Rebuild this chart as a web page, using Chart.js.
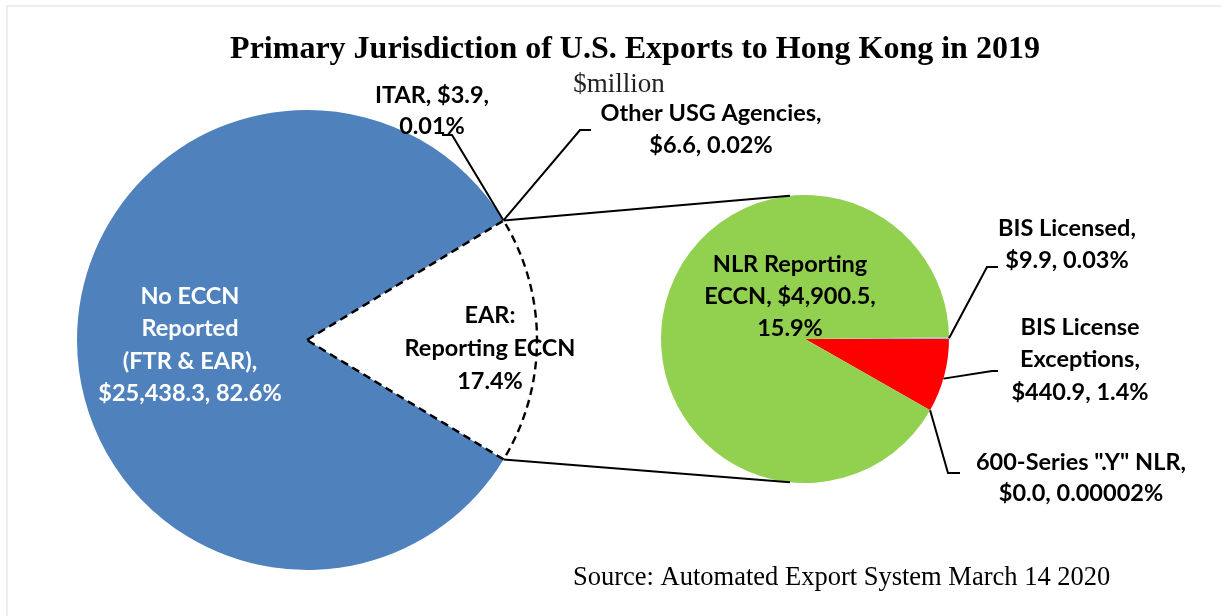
<!DOCTYPE html>
<html>
<head>
<meta charset="utf-8">
<script src="https://cdn.jsdelivr.net/npm/chart.js@4.4.1/dist/chart.umd.min.js"></script>
<style>
  body { margin: 0; background: #fff; }
  #wrap { position: relative; width: 1221px; height: 616px; }
  canvas { position: absolute; left: 0; top: 0; }
</style>
</head>
<body>
<div id="wrap">
  <canvas id="mainPie" width="1221" height="616"></canvas>
  <canvas id="earPie" width="1221" height="616"></canvas>
</div>
<script>
// $million, left pie (all exports) and right pie (EAR: reporting ECCN)
const mainCategories = ['EAR: Reporting ECCN', 'No ECCN Reported (FTR & EAR)', 'ITAR', 'Other USG Agencies'];
const mainValues = [5351.3, 25438.3, 3.9, 6.6];
const mainColors = ['#ffffff', '#4f81bd', '#c0504d', '#8064a2'];

const earCategories = ['BIS Licensed', 'BIS License Exceptions', '600-Series ".Y" NLR', 'NLR Reporting ECCN'];
const earValues = [9.9, 440.9, 0.006, 4900.5];
const earColors = ['#9fb8d8', '#ff0000', '#4bacc6', '#92d050'];

// label text as printed on the chart
const mainLabelText = [
  ['EAR:', 'Reporting ECCN', '17.4%'],
  ['No ECCN', 'Reported', '(FTR & EAR),', '$25,438.3, 82.6%'],
  ['ITAR, $3.9,', '0.01%'],
  ['Other USG Agencies,', '$6.6, 0.02%']
];
const earLabelText = [
  ['BIS Licensed,', '$9.9, 0.03%'],
  ['BIS License', 'Exceptions,', '$440.9, 1.4%'],
  ['600-Series ".Y" NLR,', '$0.0, 0.00002%'],
  ['NLR Reporting', 'ECCN, $4,900.5,', '15.9%']
];

const titleText = 'Primary Jurisdiction of U.S. Exports to Hong Kong in 2019';
const unitText = '$million';
const sourceText = 'Source: Automated Export System March 14 2020';

const LABEL_FONT = 'bold 23.5px Lato, "Open Sans", sans-serif';
const SERIF = '"Liberation Serif", "Times New Roman", serif';

function sum(arr) { return arr.reduce((a, b) => a + b, 0); }

function arcProps(chart, i) {
  return chart.getDatasetMeta(0).data[i].getProps(['x', 'y', 'startAngle', 'endAngle', 'outerRadius'], true);
}
function arcPoint(a, angle, r) {
  return { x: a.x + Math.cos(angle) * r, y: a.y + Math.sin(angle) * r };
}
function midAngle(a) { return (a.startAngle + a.endAngle) / 2; }

function drawLines(ctx, lines, x, y, lh, color) {
  ctx.fillStyle = color;
  lines.forEach((t, i) => ctx.fillText(t, x, y + i * lh));
}

function leader(ctx, from, elbow, end) {
  ctx.beginPath();
  ctx.moveTo(from.x, from.y);
  ctx.lineTo(elbow.x, elbow.y);
  ctx.lineTo(end.x, end.y);
  ctx.stroke();
}

// dashed outline around the EAR slice of the left pie
const dashedSlice = {
  id: 'dashedSlice',
  afterDatasetsDraw(chart) {
    const a = arcProps(chart, 0);
    const ctx = chart.ctx;
    ctx.save();
    ctx.strokeStyle = '#000';
    ctx.lineWidth = 2.4;
    ctx.setLineDash([8, 5]);
    ctx.beginPath();
    ctx.moveTo(a.x, a.y);
    ctx.arc(a.x, a.y, a.outerRadius, a.startAngle, a.endAngle);
    ctx.closePath();
    ctx.stroke();
    ctx.restore();
  }
};

let mainChart = null;
let earChart = null;

// connectors, leader lines and all the text
const overlay = {
  id: 'overlay',
  afterDraw(chart) {
    if (!mainChart) return;
    const ctx = chart.ctx;
    const ear = arcProps(mainChart, 0);
    const itar = arcProps(mainChart, 2);
    const usg = arcProps(mainChart, 3);
    const right = arcProps(chart, 0);
    const R = right.outerRadius;

    ctx.save();
    ctx.strokeStyle = '#000';
    ctx.lineWidth = 2;

    // pie-of-pie connectors
    const p1 = arcPoint(ear, ear.startAngle, ear.outerRadius);
    const p2 = arcPoint(ear, ear.endAngle, ear.outerRadius);
    const q1 = arcPoint(right, -96 * Math.PI / 180, R);
    const q2 = arcPoint(right, 96 * Math.PI / 180, R);
    ctx.beginPath();
    ctx.moveTo(p1.x, p1.y); ctx.lineTo(q1.x, q1.y);
    ctx.moveTo(p2.x, p2.y); ctx.lineTo(q2.x, q2.y);
    ctx.stroke();

    // leader lines
    leader(ctx, arcPoint(itar, midAngle(itar), itar.outerRadius), {x: 452, y: 135}, {x: 442, y: 135});
    leader(ctx, arcPoint(usg, midAngle(usg), usg.outerRadius), {x: 580, y: 130}, {x: 591, y: 130});
    const bl = arcProps(chart, 0), ex = arcProps(chart, 1), ys = arcProps(chart, 2);
    leader(ctx, arcPoint(bl, midAngle(bl), R), {x: 987, y: 267}, {x: 998, y: 267});
    leader(ctx, arcPoint(ex, midAngle(ex) + 0.02, R), {x: 992, y: 371}, {x: 998, y: 371});
    leader(ctx, arcPoint(ys, midAngle(ys), R), {x: 948, y: 473}, {x: 960, y: 473});
    ctx.restore();

    ctx.save();
    ctx.textAlign = 'center';
    ctx.textBaseline = 'middle';

    ctx.font = 'bold 32px ' + SERIF;
    drawLines(ctx, [titleText], 635, 50, 0, '#000');
    ctx.font = '27px ' + SERIF;
    drawLines(ctx, [unitText], 619, 85, 0, '#222');

    ctx.font = LABEL_FONT;
    drawLines(ctx, mainLabelText[0], 490, 315, 33, '#000');
    drawLines(ctx, mainLabelText[1], 190, 296, 32.5, '#fff');
    drawLines(ctx, mainLabelText[2], 432, 95, 31, '#000');
    drawLines(ctx, mainLabelText[3], 711, 113, 32, '#000');
    drawLines(ctx, earLabelText[0], 1067, 228, 32, '#000');
    drawLines(ctx, earLabelText[1], 1080, 327, 32.5, '#000');
    drawLines(ctx, earLabelText[2], 1081, 462, 31, '#000');
    drawLines(ctx, earLabelText[3], 790, 264, 32, '#000');

    ctx.textAlign = 'left';
    ctx.font = '26.5px ' + SERIF;
    drawLines(ctx, [sourceText], 573, 578, 0, '#000');
    ctx.restore();

    // light frame at top and left
    ctx.save();
    ctx.fillStyle = '#eeeeee';
    ctx.fillRect(6, 5, 1215, 2);
    ctx.fillRect(6, 5, 2, 611);
    ctx.restore();
  }
};

function pieOptions(padding, rotation) {
  return {
    responsive: false,
    animation: false,
    rotation: rotation,
    layout: { padding: padding },
    plugins: { legend: { display: false }, tooltip: { enabled: false } },
    events: []
  };
}

function mainPie() {
  const total = sum(mainValues);
  const earDeg = mainValues[0] / total * 360;
  mainChart = new Chart(document.getElementById('mainPie'), {
    type: 'pie',
    data: {
      labels: mainCategories,
      datasets: [{
        data: mainValues,
        backgroundColor: mainColors,
        borderWidth: 0
      }]
    },
    options: pieOptions({ left: 77, top: 110, right: 684, bottom: 46 }, 90 - earDeg / 2),
    plugins: [dashedSlice]
  });
}

function earPie() {
  const total = sum(earValues);
  const firstDeg = earValues[0] / total * 360;
  earChart = new Chart(document.getElementById('earPie'), {
    type: 'pie',
    data: {
      labels: earCategories,
      datasets: [{
        data: earValues,
        backgroundColor: earColors,
        borderWidth: 0
      }]
    },
    options: pieOptions({ left: 661, top: 195, right: 272, bottom: 133 }, 90 - firstDeg),
    plugins: [overlay]
  });
}

mainPie();
earPie();
</script>
</body>
</html>
